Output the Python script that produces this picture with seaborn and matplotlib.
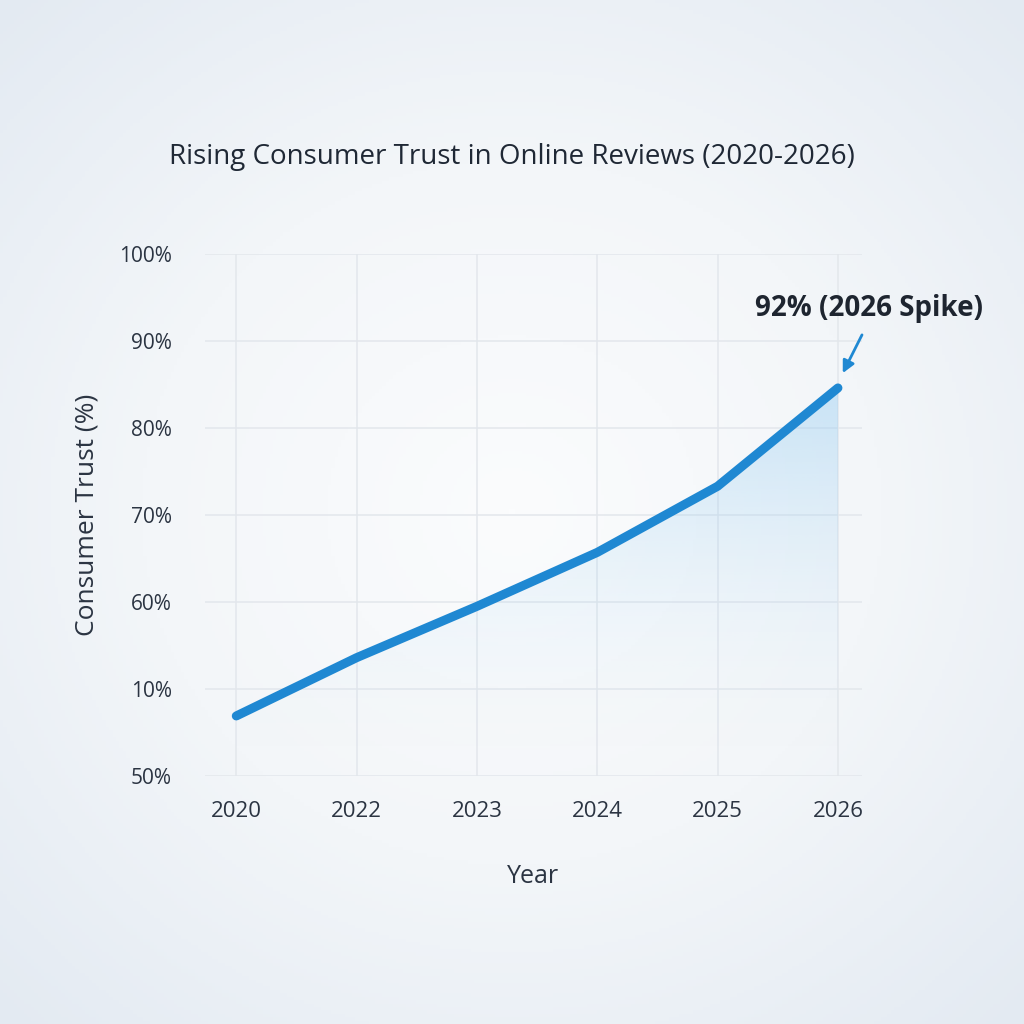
import numpy as np
import pandas as pd
import matplotlib
matplotlib.use("Agg")
import matplotlib.pyplot as plt
import seaborn as sns

# Data (y values in axis units, bottom tick = 40)
years = ["2020", "2022", "2023", "2024", "2025", "2026"]
trust = [46.9, 53.6, 59.5, 65.7, 73.3, 84.6]
y_ticks = [40, 50, 60, 70, 80, 90, 100]
y_labels = ["50%", "10%", "60%", "70%", "80%", "90%", "100%"]

df = pd.DataFrame({"Year": years, "Trust": trust})
df["pos"] = range(len(years))

sns.set_theme(style="white")
plt.rcParams["font.family"] = ["Open Sans", "DejaVu Sans"]

text_color = "#2b3442"
line_color = "#1f88d2"

fig = plt.figure(figsize=(10.24, 10.24), dpi=100)

# background: soft radial gradient
bg = fig.add_axes([0, 0, 1, 1], zorder=-10)
yy, xx = np.mgrid[-1:1:300j, -1:1:300j]
r = np.sqrt(xx**2 + (yy * 1.05)**2)
bg.imshow(r, cmap=matplotlib.colors.LinearSegmentedColormap.from_list(
    "bg", ["#fbfcfd", "#f3f6f9", "#e3eaf2"]), vmin=0, vmax=1.45,
    extent=[0, 1, 0, 1], aspect="auto")
bg.axis("off")

ax = fig.add_axes([0.2002, 0.2422, 0.6416, 0.5098])
ax.set_facecolor("none")

sns.lineplot(data=df, x="pos", y="Trust", ax=ax, color=line_color,
             linewidth=6.5, solid_capstyle="round", solid_joinstyle="round",
             zorder=5)

# gradient fill under the line
poly = ax.fill_between(df["pos"], df["Trust"], 40, color="none", lw=0)
grad = np.linspace(0, 1, 256).reshape(-1, 1)
rgba = np.zeros((256, 1, 4))
rgba[..., :3] = matplotlib.colors.to_rgb("#8fcaf2")
rgba[..., 3] = grad ** 1.8 * 0.45
img = ax.imshow(rgba, extent=[0, 5, 40, 86], origin="lower", aspect="auto",
                zorder=2)
img.set_clip_path(poly.get_paths()[0], transform=ax.transData)

ax.set_xlim(-0.26, 5.2)
ax.set_ylim(40, 100)
ax.set_xticks(df["pos"])
ax.set_xticklabels(years)
ax.set_yticks(y_ticks)
ax.set_yticklabels(y_labels)
ax.tick_params(axis="x", length=0, pad=18, labelsize=16, labelcolor=text_color)
ax.tick_params(axis="y", length=0, pad=24, labelsize=15, labelcolor=text_color)
for s in ax.spines.values():
    s.set_visible(False)
ax.grid(True, color="#e3e7ec", linewidth=1.1)
ax.set_axisbelow(True)

ax.set_xlabel("Year", fontsize=18, color=text_color, labelpad=30)
ax.set_ylabel("Consumer Trust (%)", fontsize=19, color=text_color, labelpad=14)

fig.text(0.5, 0.847, "Rising Consumer Trust in Online Reviews (2020-2026)",
         ha="center", va="center", fontsize=20, color="#1f2835")

# callout at the last point
ax.annotate("", xy=(5.04, 86.3), xytext=(5.2, 90.7), annotation_clip=False,
            arrowprops=dict(arrowstyle="-|>", color=line_color, lw=2,
                            mutation_scale=18, shrinkA=0, shrinkB=0))
ax.text(5.26, 93.7, "92% (2026 Spike)", ha="center", va="center",
        fontsize=20, fontweight="bold", color="#1e2530", clip_on=False)

fig.savefig("out.png", dpi=100)
